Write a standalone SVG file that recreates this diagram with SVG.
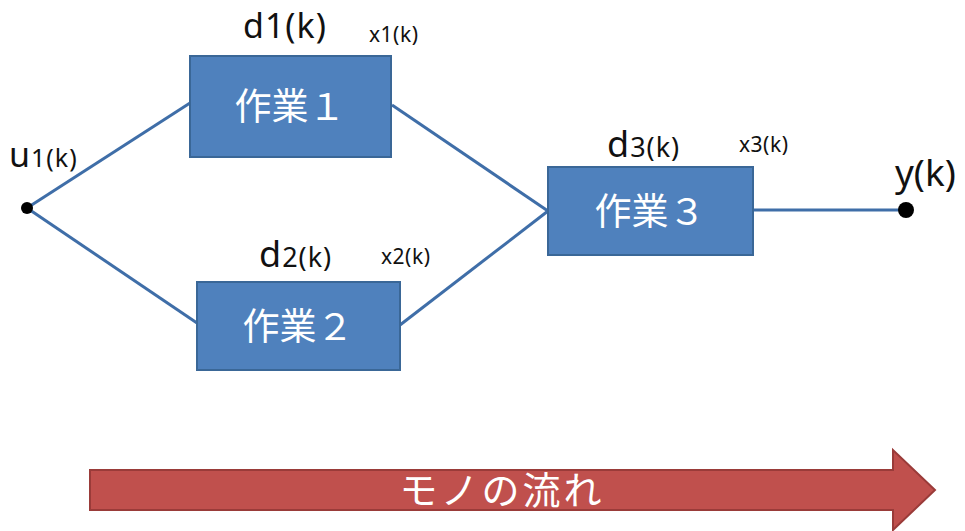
<svg xmlns="http://www.w3.org/2000/svg" width="965" height="531" viewBox="0 0 965 531">
<style>
.box{fill:#4f81bd;stroke:#3a6797;stroke-width:2}
.bt{font-family:"Noto Sans CJK JP","Noto Sans",sans-serif;font-size:37px;fill:#fff;text-anchor:middle}
.lbl{font-family:"Noto Sans","Liberation Sans",sans-serif;fill:#111}
.sm{font-size:21px;letter-spacing:0.5px}
.conn{stroke:#3f6ea8;stroke-width:3;fill:none}
</style>
<rect width="965" height="531" fill="#fff"/>
<g id="connectors">
<line class="conn" x1="27" y1="208" x2="190" y2="103"/>
<line class="conn" x1="27" y1="208" x2="197" y2="323"/>
<line class="conn" x1="392" y1="105" x2="548" y2="211"/>
<line class="conn" x1="400" y1="325" x2="548" y2="211"/>
<line class="conn" x1="753" y1="210" x2="906" y2="210"/>
</g>
<g id="input">
<circle cx="27" cy="208" r="6" fill="#000"/>
<text class="lbl" x="9" y="167" font-size="34" letter-spacing="1">u<tspan font-size="25">1(k)</tspan></text>
</g>
<g id="output">
<circle cx="906" cy="210" r="8" fill="#000"/>
<text class="lbl" x="895" y="186" font-size="37">y(k)</text>
</g>
<g id="task1">
<rect class="box" x="190" y="56" width="201" height="101"/>
<text class="bt" x="290" y="120">作業１</text>
<text class="lbl" x="243" y="38" font-size="34" letter-spacing="1">d1(k)</text>
<text class="lbl sm" x="369" y="42">x1(k)</text>
</g>
<g id="task2">
<rect class="box" x="197" y="282" width="203" height="88"/>
<text class="bt" x="298" y="340">作業２</text>
<text class="lbl" x="259" y="267" font-size="36" letter-spacing="1">d<tspan font-size="27">2(k)</tspan></text>
<text class="lbl sm" x="381" y="264">x2(k)</text>
</g>
<g id="task3">
<rect class="box" x="548" y="167" width="205" height="88"/>
<text class="bt" x="650" y="225">作業３</text>
<text class="lbl" x="607" y="157" font-size="36" letter-spacing="1">d<tspan font-size="27">3(k)</tspan></text>
<text class="lbl sm" x="739" y="152">x3(k)</text>
</g>
<g id="flow">
<polygon points="90,470 893,470 893,450 935,490 893,530 893,510 90,510" fill="#c0504d" stroke="#9a3b39" stroke-width="2"/>
<text x="502" y="504" font-family="'Noto Sans CJK JP',sans-serif" font-size="38" letter-spacing="3" fill="#fff" text-anchor="middle">モノの流れ</text>
</g>
</svg>
